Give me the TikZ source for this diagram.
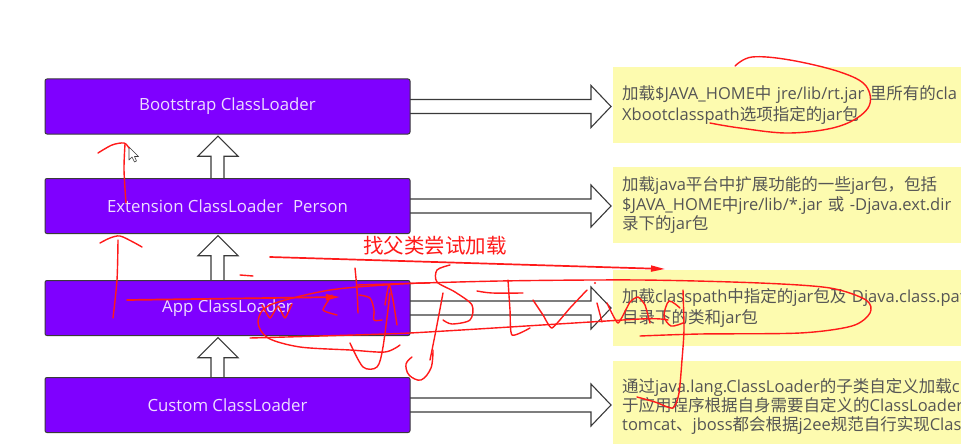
\documentclass[tikz,border=0pt]{standalone}
\usepackage{fontspec}
\setmainfont{Open Sans}
\newfontfamily\zhfont{Noto Sans CJK SC}
\newcommand\zh[1]{{\zhfont #1}}
\usetikzlibrary{calc,arrows.meta}
\definecolor{boxpurple}{HTML}{7F00FF}
\definecolor{boxedge}{HTML}{3A3A3A}
\definecolor{notey}{HTML}{FDFBAF}
\definecolor{notetext}{HTML}{555555}
\definecolor{pen}{HTML}{FF1A1A}
\definecolor{ltext}{HTML}{EEDDFF}
\newcommand\uparrowbox[2]{%
  \draw[hollow] let \p1=(#1.north), \p2=(#2.south) in
    (\x1-16.5pt,\y1) -- (\x1-16.5pt,\y2-22pt) -- (\x1-29.5pt,\y2-22pt) --
    (\x1-9.5pt,\y2-2pt) -- (\x1+10.5pt,\y2-22pt) -- (\x1-3.5pt,\y2-22pt) -- (\x1-3.5pt,\y1);}
\newcommand\rightarrowbox[2]{%
  \draw[hollow] let \p1=(#1.east), \p2=(#2.west) in
    (\x1,\y1+7pt) -- (\x2-22pt,\y1+7pt) -- (\x2-22pt,\y1+21pt) --
    (\x2-2pt,\y1) -- (\x2-22pt,\y1-21pt) -- (\x2-22pt,\y1-7pt) -- (\x1,\y1-7pt);}
\begin{document}
\begin{tikzpicture}[x=1pt,y=-1pt,
  loader/.style={draw=boxedge,line width=1pt,fill=boxpurple,rounded corners=2pt,
    minimum width=365pt,minimum height=55pt,inner sep=0pt,text=ltext,
    font=\fontsize{16.8}{19}\selectfont},
  frame/.style={minimum width=365pt,minimum height=55pt,inner sep=0pt},
  note/.style={fill=notey,anchor=north west,minimum width=400pt,minimum height=76pt,
    inner xsep=9pt,inner ysep=0pt,text width=400pt,align=left,text=notetext,
    font=\fontsize{16.5}{21}\selectfont},
  hollow/.style={draw=boxedge,line width=1.1pt,fill=white,line join=miter},
  ink/.style={draw=pen,line width=1.4pt,line cap=round,line join=round},
  inkarrow/.style={ink,line width=1.7pt,-{Triangle[length=14pt,width=6pt]}}]

\useasboundingbox[fill=white] (0,0) rectangle (961,444);

% notes
\node[note] (n1) at (613,67) {\zh{加载}\$JAVA\_HOME\zh{中} jre/lib/rt.jar \zh{里所有的}cla\\Xbootclasspath\zh{选项指定的}jar\zh{包}};
\node[note,font=\fontsize{16.5}{19.5}\selectfont] (n2) at (613,167) {\zh{加载}java\zh{平台中扩展功能的一些}jar\zh{包，包括}\\\$JAVA\_HOME\zh{中}jre/lib/*.jar \zh{或} -Djava.ext.dir\\\zh{录下的}jar\zh{包}};
\node[note] (n3) at (613,270) {\zh{加载}classpath\zh{中指定的}jar\zh{包及} Djava.class.pat\\\zh{目录下的类和}jar\zh{包}};
\node[note,minimum height=90pt,font=\fontsize{16.5}{18.8}\selectfont] (n4) at (613,361) {\zh{通过}java.lang.ClassLoader\zh{的子类自定义加载}c\\\zh{于应用程序根据自身需要自定义的}ClassLoader\\tomcat\zh{、}jboss\zh{都会根据}j2ee\zh{规范自行实现}Clas};

% loader frames (named, so the arrows can be drawn under the boxes)
\node[frame] (boot) at (227.5,106.5) {};
\node[frame] (ext) at (227.5,206) {};
\node[frame] (app) at (227.5,308) {};
\node[frame] (cus) at (227.5,405) {};

\uparrowbox{ext}{boot}
\uparrowbox{app}{ext}
\uparrowbox{cus}{app}
\rightarrowbox{boot}{n1}
\rightarrowbox{ext}{n2}
\rightarrowbox{app}{n3}
\rightarrowbox{cus}{n4}

\node[loader] at (boot) {Bootstrap ClassLoader};
\node[loader] at (ext) {Extension ClassLoader\hspace{0.6em}Person};
\node[loader] at (app) {App ClassLoader};
\node[loader] at (cus) {Custom ClassLoader};

% mouse cursor
\draw[boxedge,fill=white,line width=0.6pt,line join=round] (129,147) -- (129,160) -- (132,157) -- (134.5,162) -- (136.5,161) -- (134.5,156.5) -- (138.5,156.5) -- cycle;

% red handwritten annotations
\node[text=pen,font=\zhfont\fontsize{20.5}{23}\selectfont] (hint) at (435,246) {找父类尝试加载};
\coordinate (a1s) at (270,257); \coordinate (a1e) at (665,269);
\draw[inkarrow] (a1s) -- (a1e);
\coordinate (a2s) at (127,300); \coordinate (a2e) at (340,297);
\draw[inkarrow] (a2s) -- (a2e);

\draw[ink] plot[smooth,tension=0.6] coordinates {(735,66) (752,57) (790,60) (840,72) (866,86) (868,108) (840,126) (790,133) (740,128) (710,123)};
\draw[ink] plot[smooth] coordinates {(98,153) (112,145) (124,143) (129,148)};
\draw[ink] plot[smooth] coordinates {(125,144) (124,170) (126,203)};
\draw[ink] plot[smooth] coordinates {(100,243) (110,238) (120,236) (133,242) (142,247)};
\draw[ink] plot[smooth] coordinates {(118,240) (117,280) (113,318)};
\draw[ink] (240,275) -- (253,276);
\draw[ink] plot[smooth,tension=0.3] coordinates {(262,305) (270,318) (278,306) (285,318) (292,304)};
\draw[ink] plot[smooth,tension=0.3] coordinates {(332,295) (323,310) (337,315)};
\draw[ink] plot[smooth] coordinates {(355,268) (357,290) (358,313)};
\draw[ink] plot[smooth] coordinates {(359,295) (370,298) (374,310) (374,320) (382,320)};
\draw[ink] plot[smooth,tension=0.4] coordinates {(385,305) (389,285) (393,300) (397,325)};
\draw[ink] plot[smooth,tension=0.5] coordinates {(430,283) (400,284) (330,290) (270,305) (258,322) (268,338) (300,347) (350,350) (385,352) (400,345)};
\draw[ink] plot[smooth,tension=0.5] coordinates {(350,343) (363,367) (377,367) (383,347) (390,293)};
\draw[ink] plot[smooth,tension=0.3] coordinates {(250,338) (410,333) (640,319) (668,320)};
\draw[ink] plot[smooth,tension=0.5] coordinates {(357,285) (500,281) (640,280) (760,283) (830,288) (866,300) (870,313) (852,326) (800,333) (700,334) (640,336)};
\draw[ink] plot[smooth,tension=0.5] coordinates {(450,265) (437,270) (437,282) (455,292) (472,305) (470,320) (452,324) (443,320)};
\draw[ink] plot[smooth] coordinates {(443,293) (436,330) (430,360)};
\draw[ink] plot[smooth] coordinates {(477,291) (492,293) (523,293)};
\draw[ink] plot[smooth,tension=0.4] coordinates {(508,280) (510,310) (512,335) (530,328)};
\draw[ink] plot[smooth,tension=0.3] coordinates {(533,300) (543,315) (552,328) (570,308) (587,290)};
\draw[ink] (597,303) -- (602,322);
\fill[pen] (595,283) circle (1.2pt);
\draw[ink] plot[smooth,tension=0.3] coordinates {(607,303) (618,323) (630,302) (638,297) (645,305) (650,323)};
\draw[ink] plot[smooth,tension=0.5] coordinates {(680,308) (669,301) (664,316) (671,326) (683,323)};
\draw[ink] plot[smooth,tension=0.4] coordinates {(683,290) (684,330) (682,360) (679,393) (673,408) (655,402) (637,397)};
\draw[ink] plot[smooth,tension=0.6] coordinates {(433,350) (431,368) (421,380) (409,375) (406,364) (412,357)};
\end{tikzpicture}
\end{document}
